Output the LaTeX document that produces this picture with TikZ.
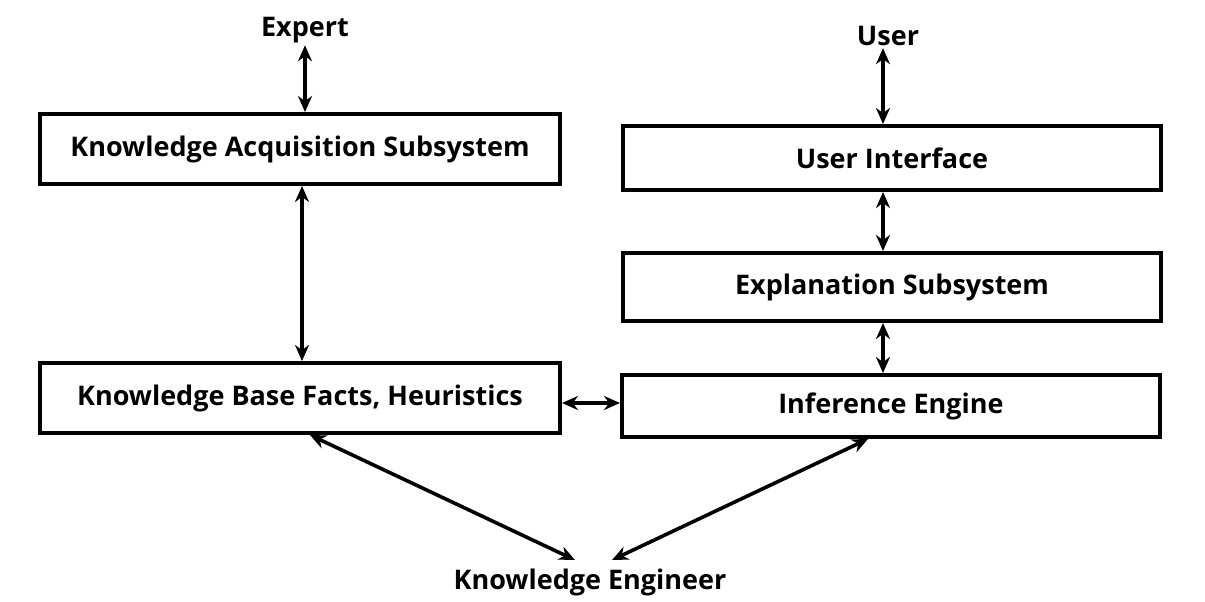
\documentclass[tikz,border=0pt]{standalone}
\usepackage{fontspec}
\setmainfont{Open Sans}
\usetikzlibrary{arrows.meta,calc}
\begin{document}
\begin{tikzpicture}[x=0.5pt,y=-0.5pt,
  blk/.style={draw,line width=2pt,minimum width=260pt,minimum height=35pt,inner sep=0pt,font=\bfseries\fontsize{13.5}{15}\selectfont},
  lbl/.style={font=\bfseries\fontsize{13.5}{15}\selectfont,inner sep=1pt},
  arr/.style={line width=1.8pt,{Stealth[length=8pt,width=7pt]}-{Stealth[length=8pt,width=7pt]}}]
\useasboundingbox (0,0) rectangle (1205,601);
\node[lbl] (expert) at (305,30) {Expert};
\node[lbl] (user) at (888,36) {User};
\node[lbl] (ke) at (590,582) {Knowledge Engineer};
\node[blk] (kas) at (300,149) {Knowledge Acquisition Subsystem};
\node[blk] (kb) at (300,398) {Knowledge Base Facts, Heuristics};
\node[blk,minimum width=269pt,minimum height=32pt] (ui) at (892,158) {User Interface};
\node[blk,minimum width=269pt,minimum height=34pt] (ex) at (892,287) {Explanation Subsystem};
\node[blk,minimum width=269pt,minimum height=31pt] (ie) at (891,406) {Inference Engine};
\coordinate (kel) at (575,560);
\coordinate (ker) at (612,560);
\draw[arr] (expert.south -| 305,0) -- (kas.north -| 305,0);
\draw[arr] (kas.south -| 302,0) -- (kb.north -| 302,0);
\draw[arr] (user.south -| 883,0) -- (ui.north -| 883,0);
\draw[arr] (ui.south -| 883,0) -- (ex.north -| 883,0);
\draw[arr] (ex.south -| 883,0) -- (ie.north -| 883,0);
\draw[arr] (kb.east |- 0,403) -- (ie.west |- 0,403);
\draw[arr] (kb.south -| 310,0) -- (kel);
\draw[arr] (ie.south -| 868,0) -- (ker);
\end{tikzpicture}
\end{document}
